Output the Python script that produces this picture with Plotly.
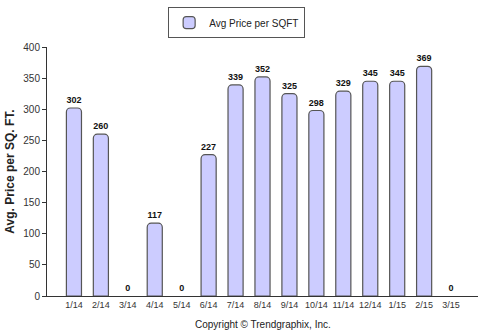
import plotly.graph_objects as go

months = ["1/14", "2/14", "3/14", "4/14", "5/14", "6/14", "7/14", "8/14",
          "9/14", "10/14", "11/14", "12/14", "1/15", "2/15", "3/15"]
price_per_sqft = [302, 260, 0, 117, 0, 227, 339, 352, 325, 298, 329, 345, 345, 369, 0]
y_ticks = [0, 50, 100, 150, 200, 250, 300, 350, 400]

idx = list(range(len(months)))
# empty months get no visible outline at the baseline
outline = ["#555555" if v > 0 else "rgba(0,0,0,0)" for v in price_per_sqft]

fig = go.Figure()
fig.add_trace(go.Bar(
    x=idx,
    y=price_per_sqft,
    name="Avg Price per SQFT",
    width=0.56,
    marker=dict(color="#ccccff", line=dict(color=outline, width=1.2), cornerradius=4),
    text=[str(v) for v in price_per_sqft],
    textposition="outside",
    textfont=dict(family="Arial", size=9, color="#111111", weight="bold"),
    cliponaxis=False,
))

fig.update_layout(
    width=481, height=335,
    margin=dict(l=47, r=3, t=47, b=39),
    paper_bgcolor="white", plot_bgcolor="white",
    font=dict(family="Arial", color="#333333"),
    showlegend=True,
    legend=dict(
        orientation="h", x=0.44, y=1.16, xanchor="center", yanchor="top",
        bordercolor="#555555", borderwidth=1, bgcolor="white",
        font=dict(family="Arial", size=10, color="#222222"),
        itemwidth=30,
    ),
    bargap=0.4,
    xaxis=dict(
        range=[-1, 15], tickmode="array", tickvals=idx, ticktext=months,
        tickangle=0,
        showline=True, linecolor="#333333", linewidth=1,
        ticks="", tickfont=dict(size=9, color="#333333"),
        showgrid=False, zeroline=False,
    ),
    yaxis=dict(
        range=[0, 400], tickmode="array", tickvals=y_ticks,
        showline=True, linecolor="#333333", linewidth=1,
        ticks="outside", ticklen=4, tickcolor="#333333",
        tickfont=dict(size=10, color="#333333"),
        showgrid=False, zeroline=False,
        title=dict(text="<b>Avg. Price per SQ. FT.</b>",
                   font=dict(size=12, color="#222222"), standoff=6),
    ),
    annotations=[dict(
        text="Copyright \u00a9 Trendgraphix, Inc.", xref="paper", yref="paper",
        x=0.5, y=-0.116, showarrow=False, xanchor="center", yanchor="middle",
        font=dict(size=10, color="#222222"),
    )],
)

fig.write_html("out.html")
